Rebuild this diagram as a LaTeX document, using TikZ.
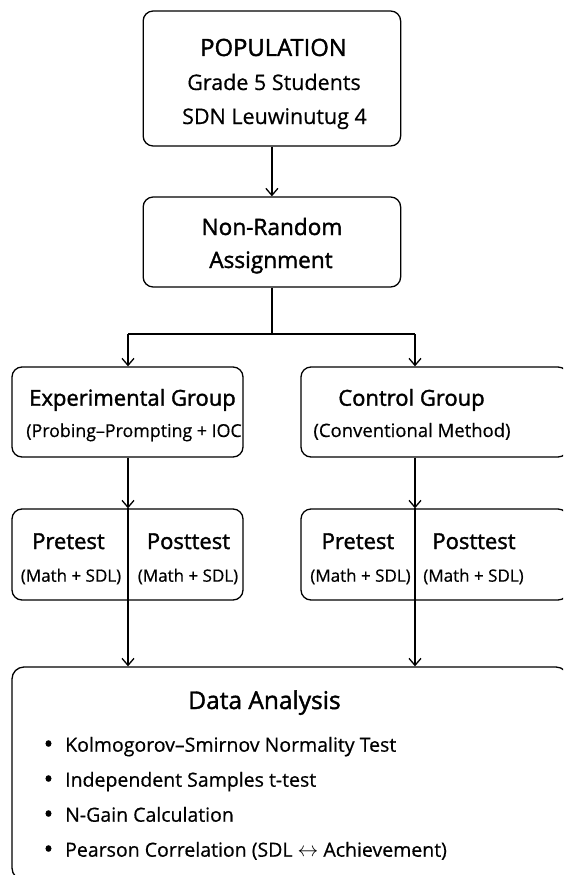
\documentclass[tikz,border=0pt]{standalone}
\usepackage{fontspec}
\setmainfont{Open Sans}[FakeBold=0.5]
\newfontfamily\hfont{Open Sans}[FakeBold=1.6]
\usetikzlibrary{arrows.meta}
\begin{document}
\begin{tikzpicture}[x=1pt,y=-1pt,
  box/.style={draw, line width=1.3pt, rounded corners=10pt, inner sep=0pt},
  ln/.style={line width=1.3pt},
  arr/.style={line width=1.3pt, -{Straight Barb[length=7pt,width=12pt,line width=1.3pt]}},
  hd/.style={anchor=base, inner sep=0pt, font=\hfont\fontsize{22}{26}\selectfont},
  bd/.style={anchor=base, inner sep=0pt, font=\fontsize{21.5}{25}\selectfont},
  sub/.style={anchor=base, inner sep=0pt, font=\fontsize{18.5}{23}\selectfont},
  sm/.style={anchor=base, inner sep=0pt, font=\fontsize{17}{22}\selectfont},
  bl/.style={anchor=base west, inner sep=0pt, font=\fontsize{19.5}{23}\selectfont},
  dot/.style={anchor=base, inner sep=0pt, font=\fontsize{26}{30}\selectfont},
]
\useasboundingbox (0,0) rectangle (563,875);
\clip (0,0) rectangle (563,875);

% boxes
\node[box, minimum width=257.5pt, minimum height=135pt] (pop) at (271.9,78.5) {};
\node[box, minimum width=257.5pt, minimum height=90pt] (nra) at (271.9,242) {};
\node[box, minimum width=231pt, minimum height=90pt] (exp) at (127.5,412) {};
\node[box, minimum width=267pt, minimum height=90pt] (ctl) at (434.5,412) {};
\node[box, minimum width=231pt, minimum height=91pt] (ppL) at (127.5,554.5) {};
\node[box, minimum width=267pt, minimum height=91pt] (ppR) at (434.5,554.5) {};
\node[box, rounded corners=12pt, minimum width=556pt, minimum height=213pt] (data) at (290,773.5) {};

% texts
\node[hd, font=\hfont\fontsize{23.8}{28}\selectfont] (t1) at (273.5,56) {POPULATION};
\node[bd] (t2) at (274,90) {Grade 5 Students};
\node[bd] (t3) at (274.5,124) {SDN Leuwinutug 4};
\node[hd, font=\hfont\fontsize{22.6}{26}\selectfont] (t4) at (272,235) {Non-Random};
\node[hd, font=\hfont\fontsize{22.6}{26}\selectfont] (t5) at (271,268) {Assignment};
\node[hd] (t6) at (132.5,405.7) {Experimental Group};
\node[sub, font=\fontsize{17.8}{23}\selectfont] (t7) at (134,437) {(Probing–Prompting + IOC};
\node[hd] (t8) at (411.5,405.7) {Control Group};
\node[sub] (t9) at (412,437) {(Conventional Method)};
\node[hd] (p1) at (68.5,549) {Pretest};
\node[hd] (p2) at (188.5,549) {Posttest};
\node[sm] (p3) at (71,581.7) {(Math + SDL)};
\node[sm] (p4) at (188,581.7) {(Math + SDL)};
\node[hd] (p5) at (358,549) {Pretest};
\node[hd] (p6) at (474,549) {Posttest};
\node[sm] (p7) at (360.5,581.7) {(Math + SDL)};
\node[sm] (p8) at (473.5,581.7) {(Math + SDL)};
\node[hd, font=\hfont\fontsize{24.5}{28}\selectfont] (d0) at (264.5,709) {Data Analysis};
\node[dot] (b1) at (48.5,753) {•};
\node[bl] (d1) at (65,751.7) {Kolmogorov–Smirnov Normality Test};
\node[dot] (b2) at (48.5,788) {•};
\node[bl] (d2) at (65,786.7) {Independent Samples t-test};
\node[dot] (b3) at (48.5,823) {•};
\node[bl] (d3) at (65,821.7) {N-Gain Calculation};
\node[dot] (b4) at (48.5,858) {•};
\node[bl] (d4) at (65,856.7) {Pearson Correlation (SDL $\leftrightarrow$ Achievement)};

% connectors
\coordinate (br) at (271.9,334);
\coordinate (brL) at (128,334);
\coordinate (brR) at (415,334);
\draw[arr] (pop.south -| br) -- (nra.north -| br);
\draw[ln] (nra.south -| br) -- (br);
\draw[ln] (brL) -- (brR);
\draw[arr] (brL) -- (brL |- exp.north);
\draw[arr] (brR) -- (brR |- ctl.north);
\draw[arr] (brL |- exp.south) -- (brL |- ppL.north);
\draw[arr] (brR |- ctl.south) -- (brR |- ppR.north);
\draw[arr] (brL |- ppL.north) -- (brL |- data.north);
\draw[arr] (brR |- ppR.north) -- (brR |- data.north);
\end{tikzpicture}
\end{document}
